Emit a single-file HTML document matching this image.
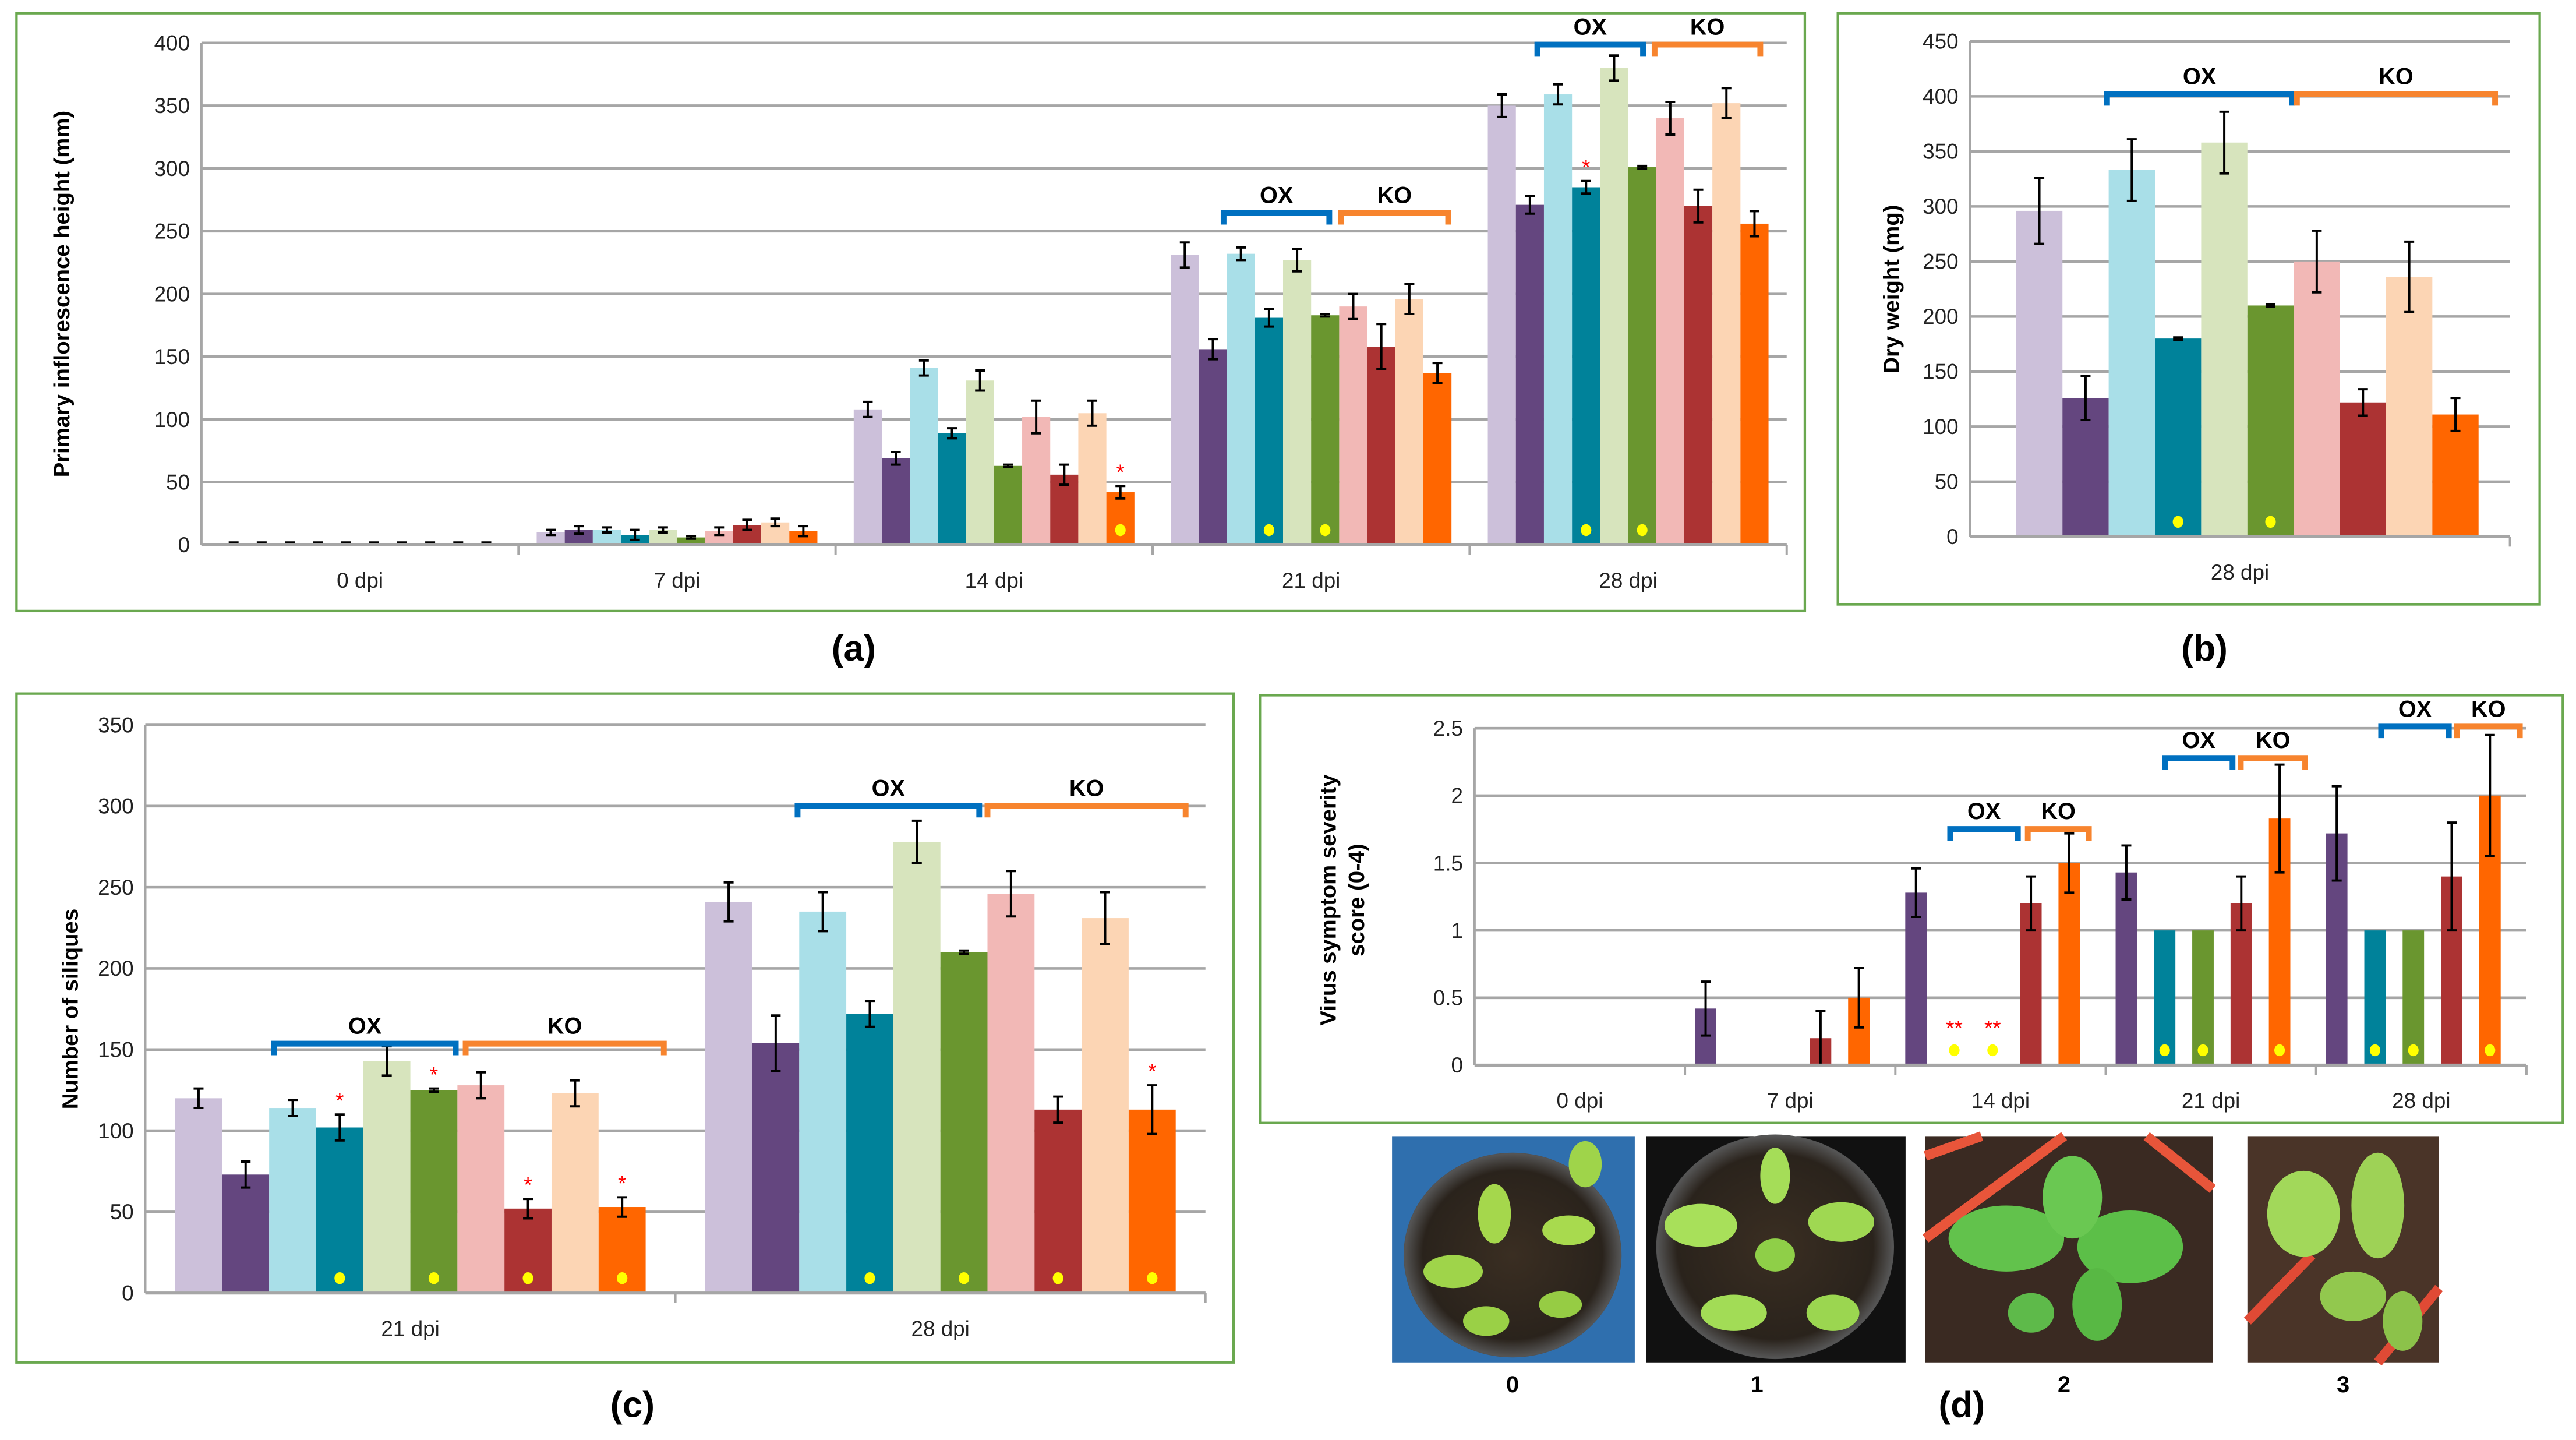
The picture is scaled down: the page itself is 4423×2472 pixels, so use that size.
<!DOCTYPE html>
<html><head><meta charset="utf-8"><style>
html,body{margin:0;padding:0;background:#fff}
svg{display:block}
text{font-family:"Liberation Sans",sans-serif}
</style></head><body>
<svg id="fig" xmlns="http://www.w3.org/2000/svg" width="4423" height="2472" viewBox="0 0 1560 872" preserveAspectRatio="none">
<g id="photos">
 <defs>
  <radialGradient id="pot" cx="50%" cy="50%" r="55%"><stop offset="0" stop-color="#3a2e22"/><stop offset="0.75" stop-color="#2a231c"/><stop offset="0.9" stop-color="#555"/><stop offset="1" stop-color="#222"/></radialGradient>
 </defs>
 <g>
  <rect x="843" y="688" width="147" height="137" fill="#2f6fae"/>
  <ellipse cx="916" cy="760" rx="66" ry="62" fill="url(#pot)"/>
  <ellipse cx="880" cy="770" rx="18" ry="10" fill="#9fd44a"/><ellipse cx="950" cy="745" rx="16" ry="9" fill="#a8da4e"/>
  <ellipse cx="900" cy="800" rx="14" ry="9" fill="#9ad046"/><ellipse cx="945" cy="790" rx="13" ry="8" fill="#96cc44"/>
  <ellipse cx="905" cy="735" rx="10" ry="18" fill="#a5d74c"/><ellipse cx="960" cy="705" rx="10" ry="14" fill="#9fd44a"/>
 </g>
 <g>
  <rect x="997" y="688" width="157" height="137" fill="#111"/>
  <ellipse cx="1075" cy="755" rx="72" ry="68" fill="url(#pot)"/>
  <ellipse cx="1030" cy="742" rx="22" ry="13" fill="#a8e05a"/><ellipse cx="1115" cy="740" rx="20" ry="12" fill="#9fd852"/>
  <ellipse cx="1050" cy="795" rx="20" ry="11" fill="#a2dc56"/><ellipse cx="1110" cy="795" rx="16" ry="11" fill="#9bd650"/>
  <ellipse cx="1075" cy="712" rx="9" ry="17" fill="#a5dd58"/><ellipse cx="1075" cy="760" rx="12" ry="10" fill="#8fcf48"/>
 </g>
 <g>
  <rect x="1166" y="688" width="174" height="137" fill="#3a2a22"/>
  <path d="M1166 700 L1200 688 M1166 750 L1250 688 M1300 688 L1340 720" stroke="#e8553a" stroke-width="6"/>
  <ellipse cx="1215" cy="750" rx="35" ry="20" fill="#62c24c"/><ellipse cx="1290" cy="755" rx="32" ry="22" fill="#5cbf48"/>
  <ellipse cx="1255" cy="725" rx="18" ry="25" fill="#6ac852"/><ellipse cx="1270" cy="790" rx="15" ry="22" fill="#58b844"/>
  <ellipse cx="1230" cy="795" rx="14" ry="12" fill="#5eba4a"/>
 </g>
 <g>
  <rect x="1361" y="688" width="116" height="137" fill="#4a3428"/>
  <path d="M1361 800 L1400 760 M1440 825 L1477 780" stroke="#e04a35" stroke-width="6"/>
  <ellipse cx="1395" cy="735" rx="22" ry="26" fill="#a2d85a"/><ellipse cx="1440" cy="730" rx="16" ry="32" fill="#9ed256"/>
  <ellipse cx="1425" cy="785" rx="20" ry="15" fill="#92c84e"/><ellipse cx="1455" cy="800" rx="12" ry="18" fill="#8cc24a"/>
 </g>
 <text x="916" y="843" font-size="14" font-weight="bold" text-anchor="middle">0</text>
 <text x="1064" y="843" font-size="14" font-weight="bold" text-anchor="middle">1</text>
 <text x="1250" y="843" font-size="14" font-weight="bold" text-anchor="middle">2</text>
 <text x="1419" y="843" font-size="14" font-weight="bold" text-anchor="middle">3</text>
</g>
<text x="517" y="400" font-size="22" font-weight="bold" text-anchor="middle">(a)</text>
<text x="1335" y="400" font-size="22" font-weight="bold" text-anchor="middle">(b)</text>
<text x="383" y="858" font-size="22" font-weight="bold" text-anchor="middle">(c)</text>
<text x="1188" y="858" font-size="22" font-weight="bold" text-anchor="middle">(d)</text>
</svg>
<script>
const colors=["#ccc0da","#64467f","#a9dfe8","#00829a","#d7e4bd","#6a962f","#f2b8b6","#ac3333","#fcd5b4","#ff6600"];
// Panel a
const aCategories=["0 dpi","7 dpi","14 dpi","21 dpi","28 dpi"];
const aTicks=[0,50,100,150,200,250,300,350,400];
const aValues=[[1,1,1,1,1,1,1,1,1,1],[10,12,12,8,12,6,11,16,18,11],[108,69,141,89,131,63,102,56,105,42],[231,156,232,181,227,183,190,158,196,137],[350,271,359,285,380,301,340,270,352,256]];
const aErrors=[[1,1,1,1,1,1,1,1,1,1],[2,3,2,4,2,1,3,4,3,4],[6,5,6,4,8,1,13,8,10,5],[10,8,5,7,9,1,10,18,12,8],[9,7,8,5,10,1,13,13,12,10]];
const aStars=[[2,9,"*"],[4,3,"*"]];
const aDots=[[2,9],[3,3],[3,5],[4,3],[4,5]];
// Panel b
const bCategories=["28 dpi"];
const bTicks=[0,50,100,150,200,250,300,350,400,450];
const bValues=[[296,126,333,180,358,210,250,122,236,111]];
const bErrors=[[30,20,28,1,28,1,28,12,32,15]];
const bDots=[[0,3],[0,5]];
// Panel c
const cCategories=["21 dpi","28 dpi"];
const cTicks=[0,50,100,150,200,250,300,350];
const cValues=[[120,73,114,102,143,125,128,52,123,53],[241,154,235,172,278,210,246,113,231,113]];
const cErrors=[[6,8,5,8,9,1,8,6,8,6],[12,17,12,8,13,1,14,8,16,15]];
const cStars=[[0,3,"*"],[0,5,"*"],[0,7,"*"],[0,9,"*"],[1,9,"*"]];
const cDots=[[0,3],[0,5],[0,7],[0,9],[1,3],[1,5],[1,7],[1,9]];
// Panel d (series: purple, teal, green, darkred, orange)
const dCategories=["0 dpi","7 dpi","14 dpi","21 dpi","28 dpi"];
const dTicks=[0,0.5,1,1.5,2,2.5];
const dTickLabels=["0","0.5","1","1.5","2","2.5"];
const dSeries=[1,3,5,7,9];
const dValues=[[0,0,0,0,0],[0.42,0,0,0.2,0.5],[1.28,0,0,1.2,1.5],[1.43,1,1,1.2,1.83],[1.72,1,1,1.4,2.0]];
const dErrors=[[0,0,0,0,0],[0.2,0,0,0.2,0.22],[0.18,0,0,0.2,0.22],[0.2,0,0,0.2,0.4],[0.35,0,0,0.4,0.45]];
const dStars=[[2,1,"**"],[2,2,"**"]];
const dDots=[[2,1],[2,2],[3,1],[3,2],[3,4],[4,1],[4,2],[4,4]];

const NS="http://www.w3.org/2000/svg";
const svg=document.getElementById("fig");
function mk(tag,attrs,parent,txt){const e=document.createElementNS(NS,tag);for(const k in attrs)e.setAttribute(k,attrs[k]);if(txt!==undefined)e.textContent=txt;(parent||svg).appendChild(e);return e;}

function chart(c){
  const g=mk("g",{},svg);
  
  
  const box=mk("rect",{x:c.box[0],y:c.box[1],width:c.box[2],height:c.box[3],fill:"none",stroke:"#6aa84f","stroke-width":1.5},g);
  
  
  const ymax=c.ticks[c.ticks.length-1];
  const Y=v=>c.y0-(v/ymax)*(c.y0-c.yTop);
  c.ticks.forEach((t,i)=>{
    const l=mk("line",{x1:c.x0,x2:c.x1,y1:Y(t),y2:Y(t),stroke:"#a6a6a6","stroke-width":1.6},g);
    
    
    const tx=mk("text",{x:c.x0-7,y:Y(t)+4.5,"font-size":13,"text-anchor":"end",fill:"#222"},g,c.tickLabels?c.tickLabels[i]:String(t));
    
    
  });
  const ax=mk("line",{x1:c.x0,x2:c.x0,y1:c.yTop,y2:c.y0,stroke:"#a6a6a6","stroke-width":1.4},g);
  
  
  const gw=(c.x1-c.x0)/c.cats.length;
  c.cats.forEach((cat,gi)=>{
    const gs=c.x0+gi*gw;
    const tk=mk("line",{x1:gs+gw,x2:gs+gw,y1:c.y0,y2:c.y0+6,stroke:"#a6a6a6","stroke-width":1.4},g);
    
    
    const lb=mk("text",{x:gs+gw/2,y:c.y0+26,"font-size":13,"text-anchor":"middle",fill:"#222"},g,cat);
    
    
    c.vals[gi].forEach((v,bi)=>{
      const bx=c.barX(gs,bi), bw=c.bw;
      const col=colors[c.series?c.series[bi]:bi];
      if(v>0){
        const r=mk("rect",{x:bx,y:Y(v),width:bw,height:c.y0-Y(v),fill:col},g);
        
        
      }
      const e=c.errs[gi][bi];
      if(e>0&&v>0){
        const cx=bx+bw/2;
        const eb=mk("path",{d:`M${cx} ${Y(v+e)}V${Y(v-e)}M${cx-3} ${Y(v+e)}H${cx+3}M${cx-3} ${Y(v-e)}H${cx+3}`,stroke:"#000","stroke-width":1.4,fill:"none"},g);
        
        
      }
    });
  });
  // axis line at zero
  const xa=mk("line",{x1:c.x0,x2:c.x1,y1:c.y0,y2:c.y0,stroke:"#a6a6a6","stroke-width":1.8},g);
  
  
  (c.stars||[]).forEach(([gi,bi,s])=>{
    const v=c.vals[gi][bi], e=c.errs[gi][bi];
    const gs=c.x0+gi*gw, cx=c.barX(gs,bi)+c.bw/2;
    const yy=v>0?Y(v+e)-4:c.y0-18;
    const st=mk("text",{x:cx,y:yy,"font-size":13,"text-anchor":"middle",fill:"#ff0000"},g,s);
    
    
  });
  (c.dots||[]).forEach(([gi,bi])=>{
    const gs=c.x0+gi*gw, cx=c.barX(gs,bi)+c.bw/2;
    const d=mk("ellipse",{cx:cx,cy:c.y0-9,rx:3.2,ry:3.6,fill:"#ffff00"},g);
    
    
  });
  (c.brackets||[]).forEach(([x1,x2,y,lab,col])=>{
    const p=mk("path",{d:`M${x1} ${y+7}V${y}H${x2}V${y+7}`,stroke:col,"stroke-width":3.5,fill:"none"},g);
    
    
    const t=mk("text",{x:(x1+x2)/2,y:y-6,"font-size":14,"font-weight":"bold","text-anchor":"middle"},g,lab);
    
    
  });
  c.ylabel.forEach((s,i)=>{
    const t=mk("text",{x:0,y:0,"font-size":13.5,"font-weight":"bold","text-anchor":"middle",transform:`translate(${c.ylx+i*17},${c.yly}) rotate(-90)`},g,s);
    
    
  });
}
const B="#0070c0",O="#f7842e";
chart({name:"chart-a-inflorescence-height",box:[10,8,1083,362],x0:122,x1:1082,y0:330,yTop:26,ticks:aTicks,cats:aCategories,vals:aValues,errs:aErrors,
  bw:17,barX:(gs,i)=>gs+11+i*17,stars:aStars,dots:aDots,ylabel:["Primary inflorescence height (mm)"],ylx:42,yly:178,
  brackets:[[741,805,129,"OX",B],[812,877,129,"KO",O],[931,995,27,"OX",B],[1002,1066,27,"KO",O]]});
chart({name:"chart-b-dry-weight",box:[1113,8,425,358],x0:1193,x1:1520,y0:325,yTop:25,ticks:bTicks,cats:bCategories,vals:bValues,errs:bErrors,
  bw:28,barX:(gs,i)=>gs+28+i*28,dots:bDots,ylabel:["Dry weight (mg)"],ylx:1150,yly:175,
  brackets:[[1276,1388,57,"OX",B],[1391,1511,57,"KO",O]]});
chart({name:"chart-c-siliques",box:[10,420,737,405],x0:88,x1:730,y0:783,yTop:439,ticks:cTicks,cats:cCategories,vals:cValues,errs:cErrors,
  bw:28.5,barX:(gs,i)=>gs+18+i*28.5,stars:cStars,dots:cDots,ylabel:["Number of siliques"],ylx:47,yly:611,
  brackets:[[166,276,632,"OX",B],[282,402,632,"KO",O],[483,593,488,"OX",B],[598,718,488,"KO",O]]});
chart({name:"chart-d-symptom-score",box:[763,421,789,259],x0:893,x1:1530,y0:645,yTop:441,ticks:dTicks,tickLabels:dTickLabels,cats:dCategories,vals:dValues,errs:dErrors,series:dSeries,
  bw:13,barX:(gs,i)=>gs+6+i*23.2,stars:dStars,dots:dDots,ylabel:["Virus symptom severity","score (0-4)"],ylx:809,yly:545,
  brackets:[[1181,1222,502,"OX",B],[1228,1265,502,"KO",O],[1311,1352,459,"OX",B],[1357,1396,459,"KO",O],[1442,1483,440,"OX",B],[1488,1526,440,"KO",O]]});
</script>
</body></html>
